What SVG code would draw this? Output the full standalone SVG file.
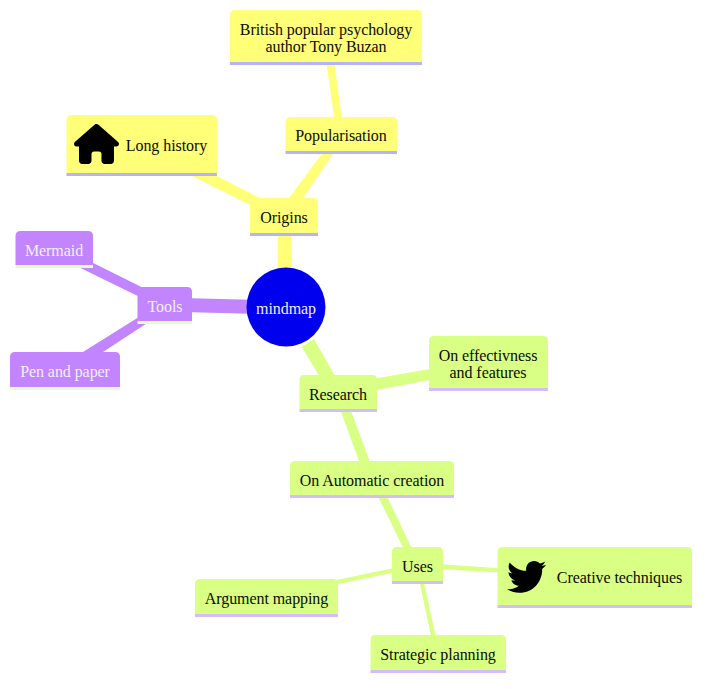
<svg xmlns="http://www.w3.org/2000/svg" width="710" height="689" viewBox="0 0 710 689">
<style>
text{font-family:"Liberation Serif","Times New Roman",serif;font-size:16px;fill:#000;text-anchor:middle;letter-spacing:-.07px;opacity:.95}
.y{fill:#ffff78}.g{fill:#d9ff85}.p{fill:#c285ff}
.yu{fill:#b3b3ff}.gu{fill:#d4bdff}.pu{fill:#e0ffc2}
text.w{fill:#f2f2ff;opacity:.99}
</style>
<rect width="710" height="689" fill="#fff"/>
<g id="connectors">
<polygon class="y" points="277.7,236 291.3,236 292,270 278,270"/>
<polygon class="y" points="321.7,154 333,154 303,198 289,198"/>
<polygon class="y" points="326.700,65 334.700,65 341.700,117 334,117"/>
<polygon class="y" points="192,176 217,176 260,198 250,205"/>
<polygon class="p" points="192,298.300 250,299.700 250,313.700 192,312.300"/>
<polygon class="p" points="92.700,262.700 143,287.700 137.700,296 80,267.700"/>
<polygon class="p" points="137.700,317.700 145.700,324 103,352 83,352"/>
<polygon class="g" points="314,339 335,376 319.300,376 301.700,346.700"/>
<polygon class="g" points="376.700,378.300 430,369 430,380 376.700,390"/>
<polygon class="g" points="340.700,411 351,411 370,462 359.300,462"/>
<polygon class="g" points="378.300,497 387.300,497 411.700,548 403.300,548"/>
<polygon class="g" points="442.700,564.300 498,568.300 498,572.300 442.700,569.300"/>
<polygon class="g" points="392.500,568.300 336.700,580 337.700,584.300 392.500,572.700"/>
<polygon class="g" points="420,584 424.300,584 435.700,636 431,636"/>
</g>
<g id="root"><circle cx="286" cy="307" r="39.500" fill="#0000ee"/><text class="w" x="286" y="314">mindmap</text></g>
<g id="origins"><path class="y" d="M250 233V203q0-5 5-5H313q5 0 5 5V233Z"/><rect class="yu" x="250" y="233" width="68" height="3"/><text x="284" y="223">Origins</text></g>
<g id="long-history"><path class="y" d="M66.500 173V120q0-5 5-5H212q5 0 5 5V173Z"/><rect class="yu" x="66.500" y="173" width="150.500" height="3"/>
<path fill="#000" transform="translate(74 124) scale(.0781)" d="M575.800 255.500c0 18-15 32.100-32 32.100h-32l.7 160.200c0 2.700-.2 5.400-.5 8.100V472c0 22.100-17.900 40-40 40H456c-1.100 0-2.200 0-3.300-.1c-1.400 .1-2.800 .1-4.200 .1H416 392c-22.100 0-40-17.900-40-40V448 384c0-17.700-14.300-32-32-32H256c-17.700 0-32 14.300-32 32v64 24c0 22.100-17.900 40-40 40H160 128.100c-1.500 0-3-.1-4.500-.2c-1.200 .1-2.400 .2-3.600 .2H104c-22.100 0-40-17.900-40-40V360c0-.9 0-1.900 .1-2.800V287.600H32c-18 0-32-14-32-32.100c0-9 3-17 10-24L266.400 8c7-7 15-8 22-8s15 2 21 7L564.800 231.500c8 7 12 15 11 24z"/>
<text x="166.500" y="151">Long history</text></g>
<g id="popularisation"><path class="y" d="M285.500 151V122q0-5 5-5H392q5 0 5 5V151Z"/><rect class="yu" x="285.500" y="151" width="111.500" height="3"/><text x="341" y="141">Popularisation</text></g>
<g id="british"><path class="y" d="M230 62V15q0-5 5-5H417q5 0 5 5V62Z"/><rect class="yu" x="230" y="62" width="192" height="3"/><text x="326" y="35">British popular psychology</text><text x="326" y="52">author Tony Buzan</text></g>
<g id="tools"><path class="p" d="M137.500 321V292q0-5 5-5H187q5 0 5 5V321Z"/><rect class="pu" x="137.500" y="321" width="54.500" height="3"/><text class="w" x="165" y="312">Tools</text></g>
<g id="mermaid"><path class="p" d="M15.500 265V236q0-5 5-5H88q5 0 5 5V265Z"/><rect class="pu" x="15.500" y="265" width="77.500" height="3"/><text class="w" x="54" y="256">Mermaid</text></g>
<g id="pen"><path class="p" d="M10 387V357q0-5 5-5H115q5 0 5 5V387Z"/><rect class="pu" x="10" y="387" width="110" height="3"/><text class="w" x="65" y="377">Pen and paper</text></g>
<g id="research"><path class="g" d="M299.500 409V380q0-5 5-5H372q5 0 5 5V409Z"/><rect class="gu" x="299.500" y="409" width="77.500" height="3"/><text x="338" y="400">Research</text></g>
<g id="effect"><path class="g" d="M429 388V341q0-5 5-5H543q5 0 5 5V388Z"/><rect class="gu" x="429" y="388" width="119" height="3"/><text x="488" y="361">On effectivness</text><text x="488" y="378">and features</text></g>
<g id="automatic"><path class="g" d="M290 495V466q0-5 5-5H449q5 0 5 5V495Z"/><rect class="gu" x="290" y="495" width="164" height="3"/><text x="372" y="486">On Automatic creation</text></g>
<g id="uses"><path class="g" d="M392 581V552q0-5 5-5H438q5 0 5 5V581Z"/><rect class="gu" x="392" y="581" width="51" height="3"/><text x="417.500" y="572">Uses</text></g>
<g id="creative"><path class="g" d="M497.500 605V552q0-5 5-5H687q5 0 5 5V605Z"/><rect class="gu" x="497.500" y="605" width="194.500" height="3"/>
<path fill="#000" transform="translate(507 557.300) scale(.0765)" d="M459.370 151.716c.325 4.548.325 9.097.325 13.645 0 138.720-105.583 298.558-298.558 298.558-59.452 0-114.680-17.219-161.137-47.106 8.447.974 16.568 1.299 25.340 1.299 49.055 0 94.213-16.568 130.274-44.832-46.132-.975-84.792-31.188-98.112-72.772 6.498.974 12.995 1.624 19.818 1.624 9.421 0 18.843-1.300 27.614-3.573-48.081-9.747-84.143-51.980-84.143-102.985v-1.299c13.969 7.797 30.214 12.670 47.431 13.319-28.264-18.843-46.781-51.005-46.781-87.391 0-19.492 5.197-37.360 14.294-52.954 51.655 63.675 129.300 105.258 216.365 109.807-1.624-7.797-2.599-15.918-2.599-24.040 0-57.828 46.782-104.934 104.934-104.934 30.213 0 57.502 12.670 76.670 33.137 23.715-4.548 46.456-13.320 66.599-25.340-7.798 24.366-24.366 44.833-46.132 57.827 21.117-2.273 41.584-8.122 60.426-16.243-14.292 20.791-32.161 39.308-52.628 54.253z"/>
<text x="619.500" y="583">Creative techniques</text></g>
<g id="argument"><path class="g" d="M195 614V584q0-5 5-5H333q5 0 5 5V614Z"/><rect class="gu" x="195" y="614" width="143" height="3"/><text x="266.500" y="604">Argument mapping</text></g>
<g id="strategic"><path class="g" d="M370.500 670V640q0-5 5-5H501q5 0 5 5V670Z"/><rect class="gu" x="370.500" y="670" width="135.500" height="3"/><text x="438" y="660">Strategic planning</text></g>
</svg>
